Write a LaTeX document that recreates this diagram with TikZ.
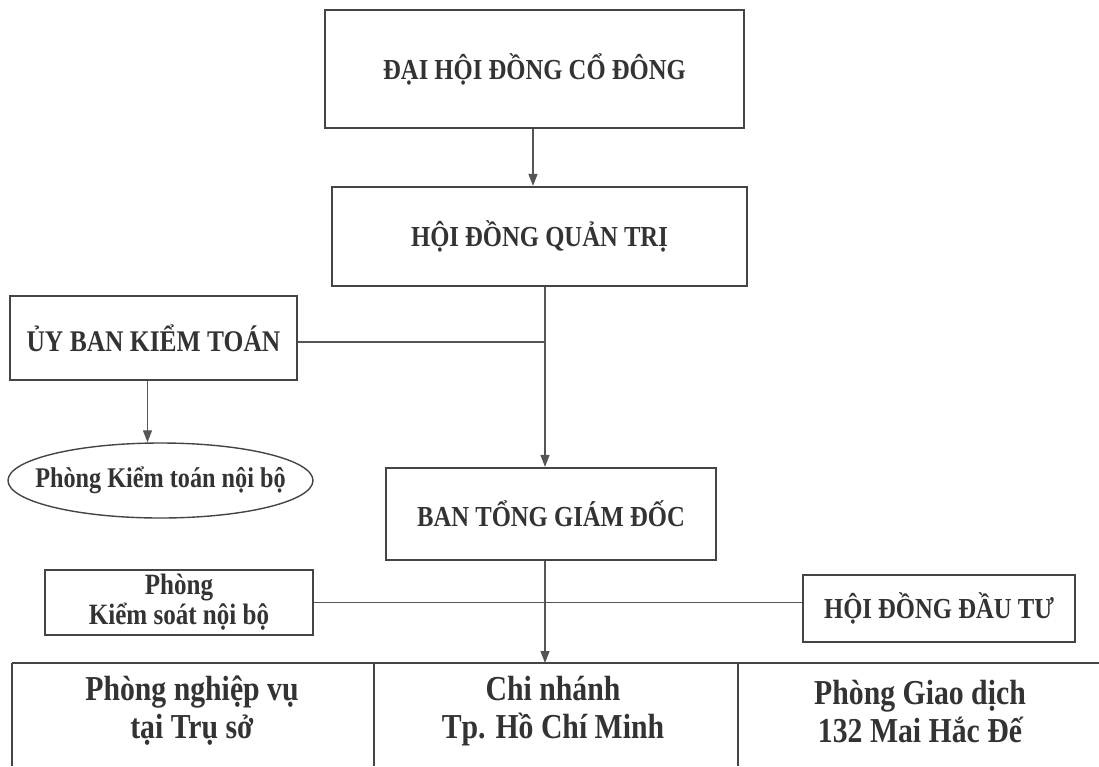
\documentclass[tikz,border=0pt]{standalone}
\usepackage{fontspec}
\setmainfont{Liberation Serif}[FakeStretch=0.85]
\usetikzlibrary{arrows.meta,shapes.geometric}
\definecolor{ink}{HTML}{333333}
\definecolor{edge}{HTML}{444444}
\definecolor{wire}{HTML}{555555}
\begin{document}
\begin{tikzpicture}[x=1pt,y=-1pt,
  box/.style={draw=edge,line width=2.2pt,rectangle,inner sep=0pt,align=center,text=ink,
    font=\bfseries\fontsize{29}{34}\selectfont},
  oval/.style={draw=edge,line width=1.4pt,ellipse,inner sep=0pt},
  ovaltext/.style={inner sep=0pt,text=ink,font=\bfseries\fontsize{28.5}{32}\selectfont},
  cell/.style={inner sep=0pt,align=center,text=ink,font=\bfseries\fontsize{35}{38}\selectfont},
  wirel/.style={draw=wire,line width=1.3pt},
  arr/.style={wirel,-{Triangle[length=12pt,width=9pt]}},
  tab/.style={draw=edge,line width=1.6pt}]
\useasboundingbox (0,0) rectangle (1099,766);
% boxes
\node[box,minimum width=419pt,minimum height=118pt] (dh) at (534.5,69) {ĐẠI HỘI ĐỒNG CỔ ĐÔNG};
\node[box,minimum width=415pt,minimum height=99pt] (qt) at (539.5,236.5) {HỘI ĐỒNG QUẢN TRỊ};
\node[box,minimum width=287pt,minimum height=84pt,font=\bfseries\fontsize{30}{34}\selectfont] (kt) at (153.5,338) {ỦY BAN KIỂM TOÁN};
\node[oval,minimum width=305pt,minimum height=75pt] (ktnb) at (160.5,480.5) {};
\node[ovaltext] (ktnbt) at (ktnb.center) {Phòng Kiểm toán nội bộ};
\node[box,minimum width=268pt,minimum height=65pt,font=\bfseries\fontsize{29.5}{30}\selectfont] (ks) at (179,602.5) {Phòng\\Kiểm soát nội bộ};
\node[box,minimum width=330pt,minimum height=92pt] (gd) at (551,514) {BAN TỔNG GIÁM ĐỐC};
\node[box,minimum width=272pt,minimum height=67pt] (dt) at (939,608.5) {HỘI ĐỒNG ĐẦU TƯ};
% table cells
\node[cell] (c1) at (192,711) {Phòng nghiệp vụ\\tại Trụ sở};
\node[cell] (c2) at (553,711) {Chi nhánh\\Tp. Hồ Chí Minh};
\node[cell] (c3) at (920,711) {Phòng Giao dịch\\132 Mai Hắc Đế};
% coordinates
\coordinate (vx) at (545,0);
\coordinate (ax) at (533,0);
\coordinate (tt) at (545,663);
\coordinate (tr) at (1099,663);
\coordinate (b1) at (12,766);
\coordinate (b2) at (374,766);
\coordinate (b3) at (738,766);
% table lines
\draw[tab] (b1 |- tr) -- (tr);
\draw[tab] (b1 |- tr) -- (b1);
\draw[tab] (b2 |- tr) -- (b2);
\draw[tab] (b3 |- tr) -- (b3);
% connectors
\draw[arr] (dh.south -| ax) -- (qt.north -| ax);
\draw[arr] (qt.south -| vx) -- (gd.north -| vx);
\draw[wirel] ([yshift=-4pt]kt.east) -- ([yshift=-4pt]kt.east -| vx);
\draw[arr] ([xshift=-6pt]kt.south) -- ([xshift=-6pt]kt.south |- ktnb.north);
\draw[wirel] (ks.east) -- (ks.east -| dt.west);
\draw[arr] (gd.south -| vx) -- (tt);
\end{tikzpicture}
\end{document}
